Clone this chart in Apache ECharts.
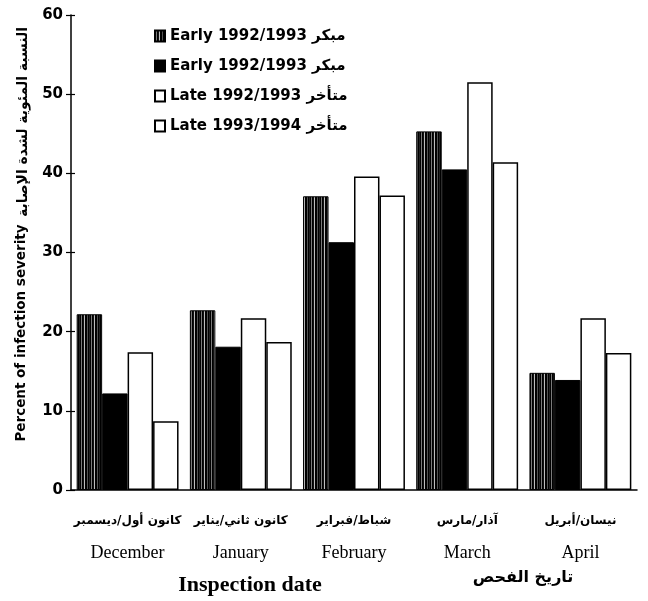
<!DOCTYPE html>
<html>
<head>
<meta charset="utf-8">
<script src="https://cdn.jsdelivr.net/npm/echarts@6/dist/echarts.min.js"></script>
<style>
  html, body { margin: 0; padding: 0; background: #fff; }
  #chart { width: 648px; height: 601px; }
</style>
</head>
<body>
<div id="chart"></div>
<script>
  // months, arabic line on top, english below
  const monthsEn = ['December', 'January', 'February', 'March', 'April'];
  const monthsAr = ['كانون أول/ديسمبر', 'كانون ثاني/يناير', 'شباط/فبراير', 'آذار/مارس', 'نيسان/أبريل'];

  // legend text as printed (the first two read the same in the source)
  const seriesKeys = ['early1', 'early2', 'late1', 'late2'];
  const seriesLabels = ['Early 1992/1993 مبكر', 'Early 1992/1993 مبكر', 'Late 1992/1993 متأخر', 'Late 1993/1994 متأخر'];

  const early1 = [22.2, 22.7, 37.1, 45.3, 14.8];
  const early2 = [12.2, 18.1, 31.3, 40.5, 13.9];
  const late1 = [17.4, 21.7, 39.6, 51.5, 21.7];
  const late2 = [8.7, 18.7, 37.2, 41.4, 17.3];

  const yTicks = [0, 10, 20, 30, 40, 50, 60];

  // vertical stripe fill for the first series, mostly dark
  function stripes() {
    const c = document.createElement('canvas');
    const cols = ['#000', '#7a7a7a', '#000', '#111', '#bdbdbd', '#000', '#000', '#555', '#000', '#222'];
    c.width = cols.length;
    c.height = 4;
    const ctx = c.getContext('2d');
    cols.forEach(function (col, i) {
      ctx.fillStyle = col;
      ctx.fillRect(i, 0, 1, 4);
    });
    return c;
  }

  const myChart = echarts.init(document.getElementById('chart'));
  const arFont = '"DejaVu Sans", sans-serif';

  const styles = [
    { color: { image: stripes(), repeat: 'repeat' }, borderColor: '#000', borderWidth: 1 },
    { color: '#000', borderColor: '#000', borderWidth: 1 },
    { color: '#fff', borderColor: '#000', borderWidth: 1.5 },
    { color: '#fff', borderColor: '#000', borderWidth: 1.5 }
  ];
  const values = [early1, early2, late1, late2];

  const option = {
    animation: false,
    backgroundColor: '#fff',
    grid: { left: 71, right: 11, top: 15, bottom: 111 },
    legend: {
      orient: 'vertical',
      left: 149,
      top: 22,
      icon: 'rect',
      itemWidth: 10,
      itemHeight: 11,
      itemGap: 12,
      data: seriesKeys,
      formatter: function (name) {
        return seriesLabels[seriesKeys.indexOf(name)];
      },
      textStyle: {
        fontFamily: arFont,
        fontWeight: 'bold',
        fontSize: 15,
        lineHeight: 18,
        color: '#000'
      }
    },
    xAxis: {
      type: 'category',
      data: monthsEn,
      axisLine: { lineStyle: { color: '#000', width: 1.5 } },
      axisTick: { length: 7, lineStyle: { color: '#000', width: 1.2 } },
      axisLabel: {
        interval: 0,
        margin: 20,
        formatter: function (v, i) {
          return '{ar|' + monthsAr[i] + '}\n{en|' + v + '}';
        },
        rich: {
          ar: { fontFamily: arFont, fontWeight: 'bold', fontSize: 12, lineHeight: 22, color: '#000' },
          en: { fontFamily: '"Liberation Serif", "Times New Roman", serif', fontSize: 18, lineHeight: 42, color: '#000' }
        }
      }
    },
    yAxis: [
      {
        type: 'value',
        min: yTicks[0],
        max: yTicks[yTicks.length - 1],
        interval: 10,
        splitLine: { show: false },
        axisLine: { show: true, lineStyle: { color: '#000', width: 1.5 } },
        axisTick: { show: true, length: 5, lineStyle: { color: '#000', width: 1.2 } },
        axisLabel: {
          margin: 8,
          fontFamily: arFont,
          fontWeight: 'bold',
          fontSize: 15,
          color: '#000'
        }
      },
      {
        type: 'value',
        position: 'left',
        min: yTicks[0],
        max: yTicks[yTicks.length - 1],
        interval: 10,
        splitLine: { show: false },
        axisLine: { show: false },
        axisTick: { show: true, inside: true, length: 4, lineStyle: { color: '#000', width: 1.2 } },
        axisLabel: { show: false }
      }
    ],
    series: [],
    graphic: [
      {
        type: 'text',
        x: 21, y: 333,
        rotation: Math.PI / 2,
        style: {
          text: 'Percent of infection severity',
          font: 'bold 13.5px "DejaVu Sans", sans-serif',
          fill: '#000',
          align: 'center',
          verticalAlign: 'middle'
        }
      },
      {
        type: 'text',
        x: 23, y: 122,
        rotation: Math.PI / 2,
        style: {
          text: 'النسبة المئوية لشدة الإصابة',
          font: 'bold 14px "DejaVu Sans", sans-serif',
          fill: '#000',
          align: 'center',
          verticalAlign: 'middle'
        }
      },
      {
        type: 'text',
        x: 250, y: 585,
        style: {
          text: 'Inspection date',
          font: 'bold 22px "Liberation Serif", "Times New Roman", serif',
          fill: '#000',
          align: 'center',
          verticalAlign: 'middle'
        }
      },
      {
        type: 'text',
        x: 523, y: 578,
        style: {
          text: 'تاريخ الفحص',
          font: 'bold 16px "DejaVu Sans", sans-serif',
          fill: '#000',
          align: 'center',
          verticalAlign: 'middle'
        }
      }
    ]
  };

  for (let i = 0; i < seriesKeys.length; i++) {
    option.series.push({
      name: seriesKeys[i],
      type: 'bar',
      data: values[i],
      barGap: '0%',
      barCategoryGap: '10%',
      itemStyle: styles[i]
    });
  }

  myChart.setOption(option);
</script>
</body>
</html>
